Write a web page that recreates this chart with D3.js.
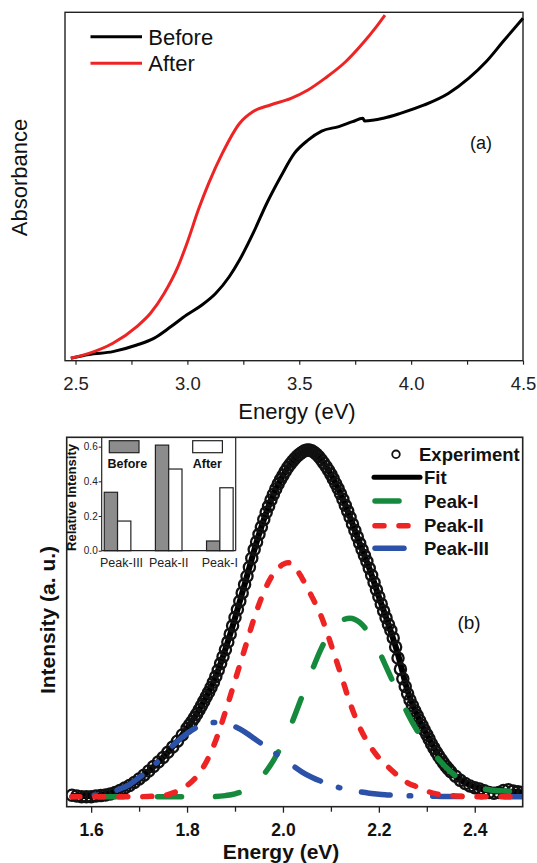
<!DOCTYPE html>
<html><head><meta charset="utf-8">
<script src="https://cdn.jsdelivr.net/npm/d3@7"></script>
<style>
body{margin:0;background:#fff}
svg{display:block}
text{font-family:"Liberation Sans",Arial,Helvetica,sans-serif}
</style>
</head><body>
<svg id="c" width="537" height="863"></svg>
<script>
// ---------- Panel (a): absorbance ----------
const absEnergyBefore = [2.479,2.560,2.667,2.774,2.850,2.927,2.996,3.065,3.126,3.187,3.233,3.294,3.355,3.417,3.478,3.539,3.600,3.677,3.738,3.784,3.792,3.876,3.952,4.059,4.166,4.258,4.335,4.411,4.5];
const absBefore = [0.7,1.8,2.6,4.5,6.4,9.8,13.1,16.0,19.3,24.1,28.9,36.6,45.2,52.8,59.5,63.3,65.9,67.2,68.6,69.6,68.8,69.6,71.0,73.4,76.7,81.1,85.8,91.6,98.3];
const absEnergyAfter = [2.479,2.560,2.667,2.774,2.835,2.896,2.958,3.003,3.049,3.095,3.156,3.233,3.294,3.371,3.463,3.539,3.616,3.707,3.784,3.845,3.883];
const absAfter = [0.7,2.1,5.0,9.8,13.6,19.3,27.0,34.6,43.3,50.9,59.5,68.1,71.5,73.4,75.3,77.7,81.1,85.8,91.1,95.9,99.2];
const absTicks = [2.5,3.0,3.5,4.0,4.5];
const absMinorTicks = [2.75,3.25,3.75,4.25];
const absLegend = ["Before","After"];

// ---------- Panel (b): PL ----------
const expEnergy = [1.56,1.57,1.58,1.59,1.60,1.61,1.62,1.63,1.64,1.65,1.66,1.67,1.68,1.69,1.70,1.71,1.72,1.73,1.74,1.75,1.76,1.77,1.78,1.79,1.80,
1.805,1.81,1.815,1.82,1.825,1.83,1.835,1.84,1.845,1.85,1.855,1.86,1.865,1.87,1.875,1.88,1.885,1.89,1.895,1.90,1.905,1.91,1.915,1.92,1.925,1.93,1.935,1.94,1.945,1.95,1.955,1.96,1.965,1.97,1.975,1.98,1.985,1.99,1.995,2.00,2.005,2.01,2.015,2.02,2.025,2.03,2.035,2.04,2.045,2.05,2.055,2.06,2.065,2.07,2.075,2.08,2.085,2.09,2.095,2.10,2.105,2.11,2.115,2.12,2.125,2.13,2.135,2.14,2.145,2.15,2.155,2.16,2.165,2.17,2.175,2.18,2.185,2.19,2.195,2.20,2.205,2.21,2.215,2.22,2.225,2.23,2.235,2.24,2.245,2.25,2.255,2.26,2.265,2.27,2.275,2.28,2.285,2.29,2.295,2.30,2.305,2.31,2.315,2.32,2.325,2.33,2.335,2.34,2.345,2.35,
2.36,2.37,2.38,2.39,2.40,2.41,2.42,2.43,2.44,2.45,2.46,2.47,2.48,2.49,2.50];
const expIntensity = [0.004,0.002,0.000,0.000,0.000,0.002,0.003,0.005,0.008,0.012,0.018,0.025,0.032,0.041,0.051,0.062,0.074,0.087,0.100,0.113,0.128,0.143,0.160,0.178,0.197,
0.207,0.216,0.227,0.238,0.250,0.262,0.275,0.288,0.301,0.315,0.330,0.347,0.365,0.384,0.404,0.424,0.446,0.469,0.493,0.517,0.540,0.564,0.588,0.612,0.636,0.662,0.688,0.713,0.735,0.757,0.778,0.800,0.820,0.838,0.856,0.872,0.888,0.902,0.915,0.927,0.939,0.950,0.959,0.968,0.976,0.983,0.989,0.994,0.998,1.000,1.000,0.998,0.994,0.988,0.981,0.972,0.963,0.953,0.942,0.930,0.917,0.903,0.889,0.874,0.858,0.841,0.824,0.806,0.787,0.768,0.750,0.731,0.713,0.696,0.679,0.659,0.639,0.618,0.597,0.577,0.556,0.536,0.516,0.497,0.480,0.458,0.432,0.400,0.368,0.340,0.318,0.297,0.279,0.263,0.248,0.234,0.220,0.206,0.192,0.179,0.166,0.152,0.140,0.128,0.117,0.107,0.097,0.088,0.080,0.072,
0.059,0.047,0.038,0.031,0.026,0.022,0.017,0.012,0.010,0.012,0.018,0.020,0.016,0.014,0.013];
const fitEnergy = [1.56,1.60,1.64,1.68,1.72,1.76,1.80,1.83,1.86,1.89,1.92,1.95,1.98,2.00,2.02,2.04,2.05,2.06,2.08,2.10,2.12,2.14,2.16,2.18,2.20,2.22,2.24,2.26,2.28,2.30,2.33,2.36,2.40,2.44,2.48,2.50];
const fitIntensity = [0.002,0.002,0.009,0.032,0.074,0.128,0.197,0.262,0.347,0.469,0.612,0.757,0.872,0.927,0.968,0.994,1.000,0.998,0.972,0.930,0.874,0.806,0.731,0.659,0.577,0.497,0.410,0.305,0.234,0.179,0.107,0.059,0.028,0.016,0.014,0.013];
const peak1Energy = [1.56,1.70,1.85,1.88,1.90,1.92,1.94,1.96,1.98,2.00,2.02,2.04,2.06,2.08,2.10,2.12,2.14,2.16,2.18,2.20,2.22,2.24,2.26,2.28,2.30,2.32,2.34,2.36,2.38,2.40,2.42,2.44,2.46,2.48,2.50];
const peak1Intensity = [0,0,0,0.003,0.008,0.018,0.036,0.064,0.104,0.155,0.218,0.290,0.362,0.428,0.478,0.506,0.515,0.503,0.470,0.420,0.360,0.300,0.240,0.190,0.150,0.115,0.085,0.060,0.042,0.030,0.022,0.018,0.016,0.015,0.014];
const peak2Energy = [1.56,1.70,1.74,1.76,1.78,1.80,1.82,1.84,1.86,1.88,1.90,1.92,1.94,1.96,1.98,2.00,2.01,2.02,2.04,2.06,2.08,2.10,2.12,2.14,2.16,2.18,2.20,2.22,2.24,2.26,2.28,2.30,2.32,2.34,2.36,2.40,2.50];
const peak2Intensity = [0,0,0.002,0.006,0.016,0.032,0.058,0.100,0.163,0.245,0.335,0.425,0.515,0.590,0.643,0.670,0.675,0.670,0.630,0.578,0.520,0.440,0.356,0.270,0.200,0.150,0.112,0.085,0.060,0.040,0.028,0.016,0.008,0.004,0.002,0,0];
const peak3Energy = [1.56,1.60,1.62,1.64,1.66,1.68,1.70,1.72,1.74,1.76,1.78,1.80,1.82,1.84,1.86,1.88,1.90,1.92,1.94,1.96,1.98,2.00,2.02,2.04,2.06,2.08,2.10,2.12,2.14,2.16,2.18,2.20,2.22,2.24,2.28,2.32,2.40,2.50];
const peak3Intensity = [0,0.003,0.007,0.013,0.022,0.035,0.055,0.076,0.103,0.133,0.160,0.182,0.200,0.211,0.214,0.212,0.202,0.187,0.168,0.148,0.129,0.110,0.090,0.071,0.056,0.044,0.034,0.025,0.019,0.014,0.010,0.007,0.005,0.003,0.002,0.001,0,0];
const plTicks = [1.6,1.8,2.0,2.2,2.4];
const plMinorTicks = [1.7,1.9,2.1,2.3];
const plLegend = ["Experiment","Fit","Peak-I","Peak-II","Peak-III"];

// ---------- Inset ----------
const insetCategories = ["Peak-III","Peak-II","Peak-I"];
const insetBefore = [0.337,0.609,0.056];
const insetAfter = [0.171,0.471,0.363];
const insetTicks = [0.0,0.2,0.4,0.6];

const svg = d3.select("#c");
const RED = "#ee2424", GREEN = "#168a3c", BLUE = "#2b52a8";

// ===== Panel (a) =====
const A = {l:65, r:523, t:12.3, b:360.7};
const xa = d3.scaleLinear().domain([2.453,4.5]).range([A.l,A.r]);
const ya = d3.scaleLinear().domain([0,100]).range([A.b,A.t]);
const ga = svg.append("g");
const axA = ga.append("g").attr("transform",`translate(0,${A.b})`)
  .call(d3.axisBottom(xa).tickValues(absTicks).tickFormat(d3.format(".1f")).tickSize(4).tickSizeOuter(0));
axA.select(".domain").remove();
axA.selectAll("text").attr("dy",null).attr("y",29.3).attr("font-size",18.5).attr("fill","#222").attr("font-family","Liberation Sans, Arial, sans-serif");
axA.selectAll("line").attr("stroke","#222").attr("stroke-width",1.2);
const axAm = ga.append("g").attr("transform",`translate(0,${A.b})`)
  .call(d3.axisBottom(xa).tickValues(absMinorTicks).tickFormat("").tickSize(4).tickSizeOuter(0));
axAm.select(".domain").remove();
axAm.selectAll("line").attr("stroke","#222").attr("stroke-width",1.2);
ga.append("rect").attr("x",A.l).attr("y",A.t).attr("width",A.r-A.l).attr("height",A.b-A.t)
  .attr("fill","none").attr("stroke","#222").attr("stroke-width",1.4);
const lineA = d3.line().curve(d3.curveMonotoneX);
ga.append("path").attr("d",lineA(absEnergyBefore.map((e,i)=>[xa(e),ya(absBefore[i])])))
  .attr("fill","none").attr("stroke","#000").attr("stroke-width",3);
ga.append("path").attr("d",lineA(absEnergyAfter.map((e,i)=>[xa(e),ya(absAfter[i])])))
  .attr("fill","none").attr("stroke",RED).attr("stroke-width",3);
// legend
absLegend.forEach((name,i)=>{
  const y = 36.7 + i*26.6;
  ga.append("line").attr("x1",90.5).attr("x2",142).attr("y1",y).attr("y2",y)
    .attr("stroke", i===0?"#000":RED).attr("stroke-width",3);
  ga.append("text").attr("x",148.3).attr("y",y+8).attr("font-size",22).attr("fill","#111").text(name);
});
ga.append("text").attr("x",481).attr("y",148.5).attr("text-anchor","middle")
  .attr("font-family","Liberation Serif, Times New Roman, serif").attr("font-size",18).attr("fill","#111").text("(a)");
ga.append("text").attr("x",297).attr("y",418.5).attr("text-anchor","middle").attr("font-size",22).attr("fill","#111").text("Energy (eV)");
ga.append("text").attr("transform","translate(27,177.5) rotate(-90)").attr("text-anchor","middle")
  .attr("font-size",22).attr("fill","#111").text("Absorbance");

// ===== Panel (b) =====
const B = {l:66.7, r:522.7, t:437.3, b:806.7};
const xb = d3.scaleLinear().domain([1.549,2.5]).range([B.l,B.r]);
const yb = d3.scaleLinear().domain([-0.029,1.037]).range([B.b,B.t]);
const gb = svg.append("g");
gb.append("defs").append("clipPath").attr("id","clipb").append("rect")
  .attr("x",B.l).attr("y",B.t).attr("width",B.r-B.l).attr("height",B.b-B.t);
const axB = gb.append("g").attr("transform",`translate(0,${B.b})`)
  .call(d3.axisBottom(xb).tickValues(plTicks).tickFormat(d3.format(".1f")).tickSize(6).tickSizeOuter(0));
axB.select(".domain").remove();
axB.selectAll("text").attr("dy",null).attr("y",29.5).attr("font-size",17.5).attr("font-weight","bold").attr("fill","#111").attr("font-family","Liberation Sans, Arial, sans-serif");
axB.selectAll("line").attr("stroke","#222").attr("stroke-width",1.3);
const axBm = gb.append("g").attr("transform",`translate(0,${B.b})`)
  .call(d3.axisBottom(xb).tickValues(plMinorTicks).tickFormat("").tickSize(5).tickSizeOuter(0));
axBm.select(".domain").remove();
axBm.selectAll("line").attr("stroke","#222").attr("stroke-width",1.3);

const plot = gb.append("g").attr("clip-path","url(#clipb)");
const lineB = d3.line().curve(d3.curveMonotoneX);
plot.append("path").attr("d",lineB(fitEnergy.map((e,i)=>[xb(e),yb(fitIntensity[i])])))
  .attr("fill","none").attr("stroke","#000").attr("stroke-width",6);
plot.append("g").selectAll("circle").data(expEnergy).join("circle")
  .attr("cx",d=>xb(d)).attr("cy",(d,i)=>yb(expIntensity[i])).attr("r",5.6)
  .attr("fill","none").attr("stroke","#111").attr("stroke-width",2.3);

// align a dash pattern so that a dash begins at a given energy
function dashed(energy, intensity, color, pattern, startE){
  const p = plot.append("path").attr("d",lineB(energy.map((e,i)=>[xb(e),yb(intensity[i])])))
    .attr("fill","none").attr("stroke",color).attr("stroke-width",5.5).attr("stroke-linecap","round")
    .attr("stroke-dasharray",pattern.join(","));
  const node = p.node(), total = node.getTotalLength(), tx = xb(startE);
  let lo = 0, hi = total;
  for(let k=0;k<40;k++){ const m=(lo+hi)/2; if(node.getPointAtLength(m).x < tx) lo=m; else hi=m; }
  const period = d3.sum(pattern);
  p.attr("stroke-dashoffset", (period - (lo % period)) % period);
  return p;
}
dashed(peak1Energy, peak1Intensity, GREEN, [24,34], 2.128);
dashed(peak3Energy, peak3Intensity, BLUE, [29,19,1.5,22], 2.025);
dashed(peak2Energy, peak2Intensity, RED, [9,15], 1.995);

gb.append("rect").attr("x",B.l).attr("y",B.t).attr("width",B.r-B.l).attr("height",B.b-B.t)
  .attr("fill","none").attr("stroke","#222").attr("stroke-width",1.6);

// legend (b)
const legY = [454.3,477.3,501,525.7,548.3];
gb.append("circle").attr("cx",396).attr("cy",legY[0]).attr("r",3.8).attr("fill","none").attr("stroke","#111").attr("stroke-width",1.8);
gb.append("line").attr("x1",374).attr("x2",420).attr("y1",legY[1]).attr("y2",legY[1]).attr("stroke","#000").attr("stroke-width",5).attr("stroke-linecap","round");
gb.append("line").attr("x1",375).attr("x2",399).attr("y1",legY[2]).attr("y2",legY[2]).attr("stroke",GREEN).attr("stroke-width",5.5).attr("stroke-linecap","round");
gb.append("line").attr("x1",375).attr("x2",410).attr("y1",legY[3]).attr("y2",legY[3]).attr("stroke",RED).attr("stroke-width",5.5).attr("stroke-linecap","round").attr("stroke-dasharray","9,15");
gb.append("line").attr("x1",375).attr("x2",404).attr("y1",legY[4]).attr("y2",legY[4]).attr("stroke",BLUE).attr("stroke-width",5.5).attr("stroke-linecap","round");
plLegend.forEach((name,i)=>{
  gb.append("text").attr("x",i===0?419:424).attr("y",legY[i]+6.6).attr("font-size",18.5).attr("font-weight","bold").attr("fill","#111").text(name);
});
gb.append("text").attr("x",469).attr("y",629).attr("text-anchor","middle")
  .attr("font-family","Liberation Serif, Times New Roman, serif").attr("font-size",19).attr("fill","#111").text("(b)");
gb.append("text").attr("x",281).attr("y",859).attr("text-anchor","middle").attr("font-size",21).attr("font-weight","bold").attr("fill","#111").text("Energy (eV)");
gb.append("text").attr("transform","translate(54.5,620) rotate(-90)").attr("text-anchor","middle")
  .attr("font-size",21).attr("font-weight","bold").attr("fill","#111").text("Intensity (a. u.)");

// ===== Inset =====
const I = {l:101.7, r:235.7, t:437.3, b:550.7};
const xi = d3.scalePoint().domain(insetCategories).range([I.l,I.r]).padding(0.31);
const yi = d3.scaleLinear().domain([0,0.654]).range([I.b,I.t]);
const gi = svg.append("g");
const bw = 13.3;
gi.selectAll("rect.before").data(insetCategories).join("rect").attr("class","before")
  .attr("x",d=>xi(d)-bw).attr("y",(d,i)=>yi(insetBefore[i])).attr("width",bw).attr("height",(d,i)=>I.b-yi(insetBefore[i]))
  .attr("fill","#8c8c8c").attr("stroke","#222").attr("stroke-width",1.2);
gi.selectAll("rect.after").data(insetCategories).join("rect").attr("class","after")
  .attr("x",d=>xi(d)).attr("y",(d,i)=>yi(insetAfter[i])).attr("width",bw).attr("height",(d,i)=>I.b-yi(insetAfter[i]))
  .attr("fill","#fff").attr("stroke","#222").attr("stroke-width",1.2);
gi.append("line").attr("x1",I.l).attr("x2",I.l).attr("y1",I.t).attr("y2",I.b).attr("stroke","#222").attr("stroke-width",1.2);
gi.append("line").attr("x1",I.l).attr("x2",I.r).attr("y1",I.b).attr("y2",I.b).attr("stroke","#222").attr("stroke-width",1.2);
gi.append("line").attr("x1",I.r).attr("x2",I.r).attr("y1",I.t).attr("y2",I.b).attr("stroke","#222").attr("stroke-width",1.2);
const axI = gi.append("g").attr("transform",`translate(${I.l},0)`)
  .call(d3.axisLeft(yi).tickValues(insetTicks).tickFormat(d3.format(".1f")).tickSize(3).tickPadding(1));
axI.select(".domain").remove();
axI.selectAll("text").attr("font-size",10).attr("fill","#222").attr("font-family","Liberation Sans, Arial, sans-serif");
axI.selectAll("line").attr("stroke","#222");
insetCategories.forEach(c=>{
  gi.append("text").attr("x",xi(c)+ (c==="Peak-III"?4:0)).attr("y",566.5).attr("text-anchor","middle").attr("font-size",12.5).attr("fill","#222").text(c);
});
gi.append("rect").attr("x",109.3).attr("y",440.7).attr("width",29.7).attr("height",12).attr("fill","#8c8c8c").attr("stroke","#222").attr("stroke-width",1.2);
gi.append("rect").attr("x",192.7).attr("y",440.7).attr("width",29.7).attr("height",12).attr("fill","#fff").attr("stroke","#222").attr("stroke-width",1.2);
gi.append("text").attr("x",127.3).attr("y",468.3).attr("text-anchor","middle").attr("font-size",12.5).attr("font-weight","bold").attr("fill","#111").text("Before");
gi.append("text").attr("x",207.3).attr("y",468.3).attr("text-anchor","middle").attr("font-size",12.5).attr("font-weight","bold").attr("fill","#111").text("After");
gi.append("text").attr("transform","translate(75.5,497.5) rotate(-90)").attr("text-anchor","middle")
  .attr("font-size",13).attr("font-weight","bold").attr("fill","#111").text("Relative Intensity");
</script>
</body></html>
